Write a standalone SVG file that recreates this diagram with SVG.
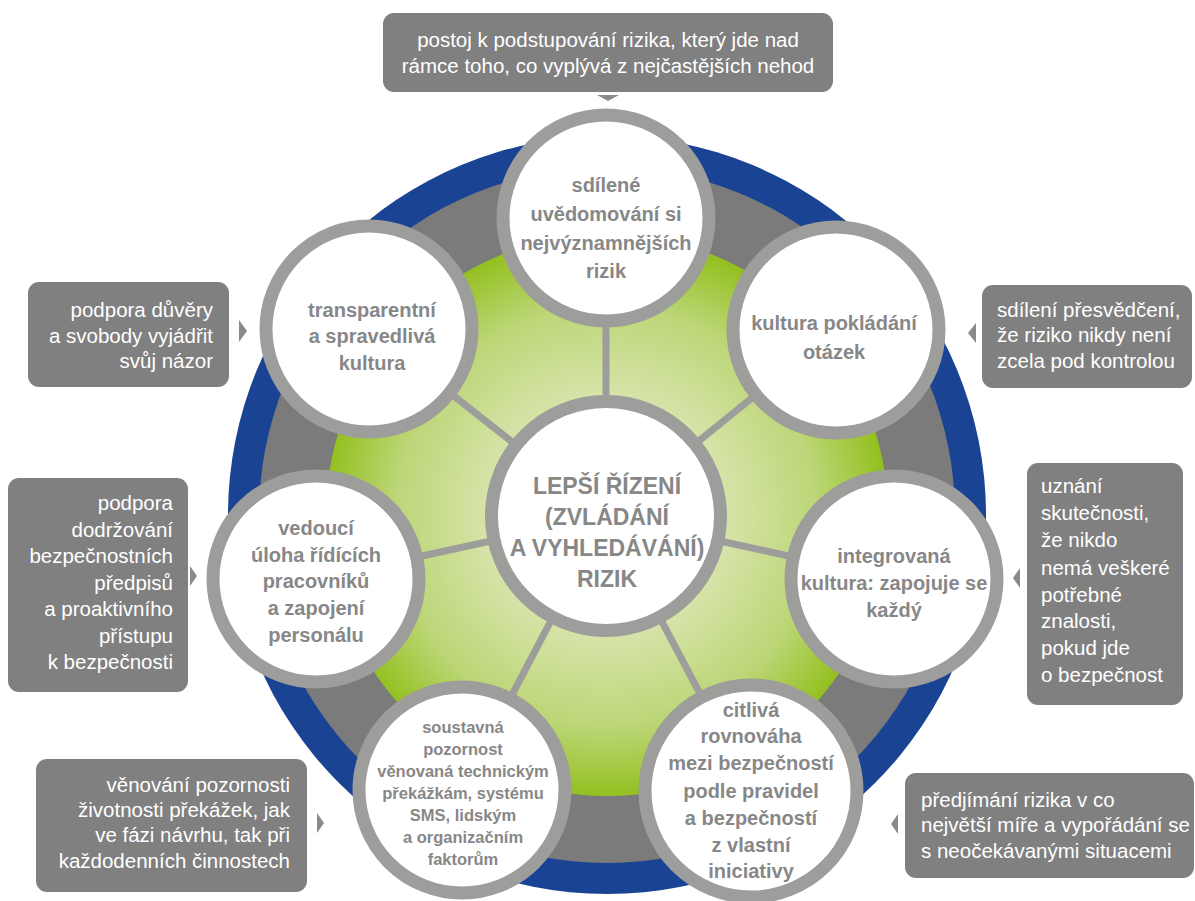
<svg xmlns="http://www.w3.org/2000/svg" width="1195" height="901" viewBox="0 0 1195 901">
<defs>
<radialGradient id="greenGrad" cx="606" cy="516" r="281" gradientUnits="userSpaceOnUse">
<stop offset="0" stop-color="#e2ecc4"/>
<stop offset="0.45" stop-color="#d4e3a5"/>
<stop offset="0.75" stop-color="#bcd677"/>
<stop offset="1" stop-color="#94c01f"/>
</radialGradient>
<style>
.node-ring{fill:#ffffff;stroke:#9d9d9c;stroke-width:13}
.ntext{font-family:"Liberation Sans",Arial,sans-serif;font-weight:700;font-size:20px;fill:#878787;text-anchor:middle}
.ntext-sm{font-family:"Liberation Sans",Arial,sans-serif;font-weight:700;font-size:16.5px;fill:#878787;text-anchor:middle}
.ctext{font-family:"Liberation Sans",Arial,sans-serif;font-weight:700;font-size:23px;fill:#878787;text-anchor:middle}
.box{fill:#808080}
.btext{font-family:"Liberation Sans",Arial,sans-serif;font-size:20.5px;fill:#ffffff}
.spoke{stroke:#9d9d9c;stroke-width:7}
.pointer{fill:#8a8a8a}
</style>
</defs>
<rect width="1195" height="901" fill="#ffffff"/>
<g id="background-rings">
<circle cx="607" cy="515" r="379" fill="#1a4394"/>
<circle cx="607" cy="515" r="348" fill="#7b7b7b"/>
<circle cx="607" cy="515" r="281" fill="url(#greenGrad)"/>
</g>
<g id="connectors">
<line class="spoke" x1="606" y1="516" x2="606" y2="218"/>
<line class="spoke" x1="606" y1="516" x2="836" y2="330"/>
<line class="spoke" x1="606" y1="516" x2="894" y2="579"/>
<line class="spoke" x1="606" y1="516" x2="751" y2="790"/>
<line class="spoke" x1="606" y1="516" x2="462" y2="790"/>
<line class="spoke" x1="606" y1="516" x2="316" y2="579"/>
<line class="spoke" x1="606" y1="516" x2="369" y2="329"/>
<polygon class="pointer" points="597,95 619,95 608,101"/>
<polygon class="pointer" points="239,320 247,331 239,342"/>
<polygon class="pointer" points="976,323 968,333 976,343"/>
<polygon class="pointer" points="190,566 197,576 190,586"/>
<polygon class="pointer" points="1020,568 1013,578 1020,588"/>
<polygon class="pointer" points="317,813 324,823 317,833"/>
<polygon class="pointer" points="898,814 891,824 898,834"/>
</g>
<g id="node-center">
<circle class="node-ring" cx="606" cy="516" r="114.5"/>
<text class="ctext"><tspan x="607" y="494">LEPŠÍ ŘÍZENÍ</tspan><tspan x="607" y="525">(ZVLÁDÁNÍ</tspan><tspan x="607" y="556">A VYHLEDÁVÁNÍ)</tspan><tspan x="607" y="587">RIZIK</tspan></text>
</g>
<g id="node-top">
<circle class="node-ring" cx="606" cy="218" r="103"/>
<text class="ntext"><tspan x="606" y="192">sdílené</tspan><tspan x="606" y="221">uvědomování si</tspan><tspan x="606" y="250">nejvýznamnějších</tspan><tspan x="606" y="278">rizik</tspan></text>
</g>
<g id="node-top-right">
<circle class="node-ring" cx="836" cy="330" r="103"/>
<text class="ntext"><tspan x="834" y="330">kultura pokládání</tspan><tspan x="834" y="359">otázek</tspan></text>
</g>
<g id="node-right">
<circle class="node-ring" cx="894" cy="579" r="103"/>
<text class="ntext"><tspan x="894" y="563">integrovaná</tspan><tspan x="894" y="590">kultura: zapojuje se</tspan><tspan x="894" y="617">každý</tspan></text>
</g>
<g id="node-bottom-right">
<circle class="node-ring" cx="751" cy="791" r="106"/>
<text class="ntext"><tspan x="751" y="717">citlivá</tspan><tspan x="751" y="743">rovnováha</tspan><tspan x="751" y="770">mezi bezpečností</tspan><tspan x="751" y="798">podle pravidel</tspan><tspan x="751" y="825">a bezpečností</tspan><tspan x="751" y="852">z vlastní</tspan><tspan x="751" y="878">iniciativy</tspan></text>
</g>
<g id="node-bottom-left">
<circle class="node-ring" cx="462" cy="790" r="103"/>
<text class="ntext-sm"><tspan x="463" y="733">soustavná</tspan><tspan x="463" y="755">pozornost</tspan><tspan x="463" y="777">věnovaná technickým</tspan><tspan x="463" y="799">překážkám, systému</tspan><tspan x="463" y="821">SMS, lidským</tspan><tspan x="463" y="843">a organizačním</tspan><tspan x="463" y="865">faktorům</tspan></text>
</g>
<g id="node-left">
<circle class="node-ring" cx="316" cy="579" r="103"/>
<text class="ntext"><tspan x="316" y="535">vedoucí</tspan><tspan x="316" y="562">úloha řídících</tspan><tspan x="316" y="588">pracovníků</tspan><tspan x="316" y="615">a zapojení</tspan><tspan x="316" y="642">personálu</tspan></text>
</g>
<g id="node-top-left">
<circle class="node-ring" cx="369" cy="329" r="103"/>
<text class="ntext"><tspan x="372" y="317">transparentní</tspan><tspan x="372" y="343">a spravedlivá</tspan><tspan x="372" y="370">kultura</tspan></text>
</g>
<g id="callout-top">
<rect class="box" x="383" y="13" width="450" height="79" rx="11"/>
<text class="btext" text-anchor="middle"><tspan x="608" y="47">postoj k podstupování rizika, který jde nad</tspan><tspan x="608" y="73">rámce toho, co vyplývá z nejčastějších nehod</tspan></text>
</g>
<g id="callout-top-left">
<rect class="box" x="28" y="282" width="201" height="105" rx="11"/>
<text class="btext" text-anchor="end"><tspan x="213" y="317">podpora důvěry</tspan><tspan x="213" y="343">a svobody vyjádřit</tspan><tspan x="213" y="368">svůj názor</tspan></text>
</g>
<g id="callout-top-right">
<rect class="box" x="982" y="285" width="210" height="103" rx="11"/>
<text class="btext" text-anchor="start"><tspan x="997" y="317">sdílení přesvědčení,</tspan><tspan x="997" y="342">že riziko nikdy není</tspan><tspan x="997" y="368">zcela pod kontrolou</tspan></text>
</g>
<g id="callout-left">
<rect class="box" x="8" y="478" width="180" height="214" rx="11"/>
<text class="btext" text-anchor="end"><tspan x="173" y="510">podpora</tspan><tspan x="173" y="537">dodržování</tspan><tspan x="173" y="563">bezpečnostních</tspan><tspan x="173" y="590">předpisů</tspan><tspan x="173" y="616">a proaktivního</tspan><tspan x="173" y="643">přístupu</tspan><tspan x="173" y="669">k bezpečnosti</tspan></text>
</g>
<g id="callout-right">
<rect class="box" x="1027" y="463" width="156" height="242" rx="11"/>
<text class="btext" text-anchor="start"><tspan x="1041" y="493">uznání</tspan><tspan x="1041" y="520">skutečnosti,</tspan><tspan x="1041" y="547">že nikdo</tspan><tspan x="1041" y="575">nemá veškeré</tspan><tspan x="1041" y="602">potřebné</tspan><tspan x="1041" y="628">znalosti,</tspan><tspan x="1041" y="655">pokud jde</tspan><tspan x="1041" y="682">o bezpečnost</tspan></text>
</g>
<g id="callout-bottom-left">
<rect class="box" x="36" y="759" width="271" height="133" rx="11"/>
<text class="btext" text-anchor="end"><tspan x="290" y="792">věnování pozornosti</tspan><tspan x="290" y="817">životnosti překážek, jak</tspan><tspan x="290" y="842">ve fázi návrhu, tak při</tspan><tspan x="290" y="868">každodenních činnostech</tspan></text>
</g>
<g id="callout-bottom-right">
<rect class="box" x="905" y="773" width="289" height="105" rx="11"/>
<text class="btext" text-anchor="start"><tspan x="921" y="807">předjímání rizika v co</tspan><tspan x="921" y="832">největší míře a vypořádání se</tspan><tspan x="921" y="858">s neočekávanými situacemi</tspan></text>
</g>
</svg>
